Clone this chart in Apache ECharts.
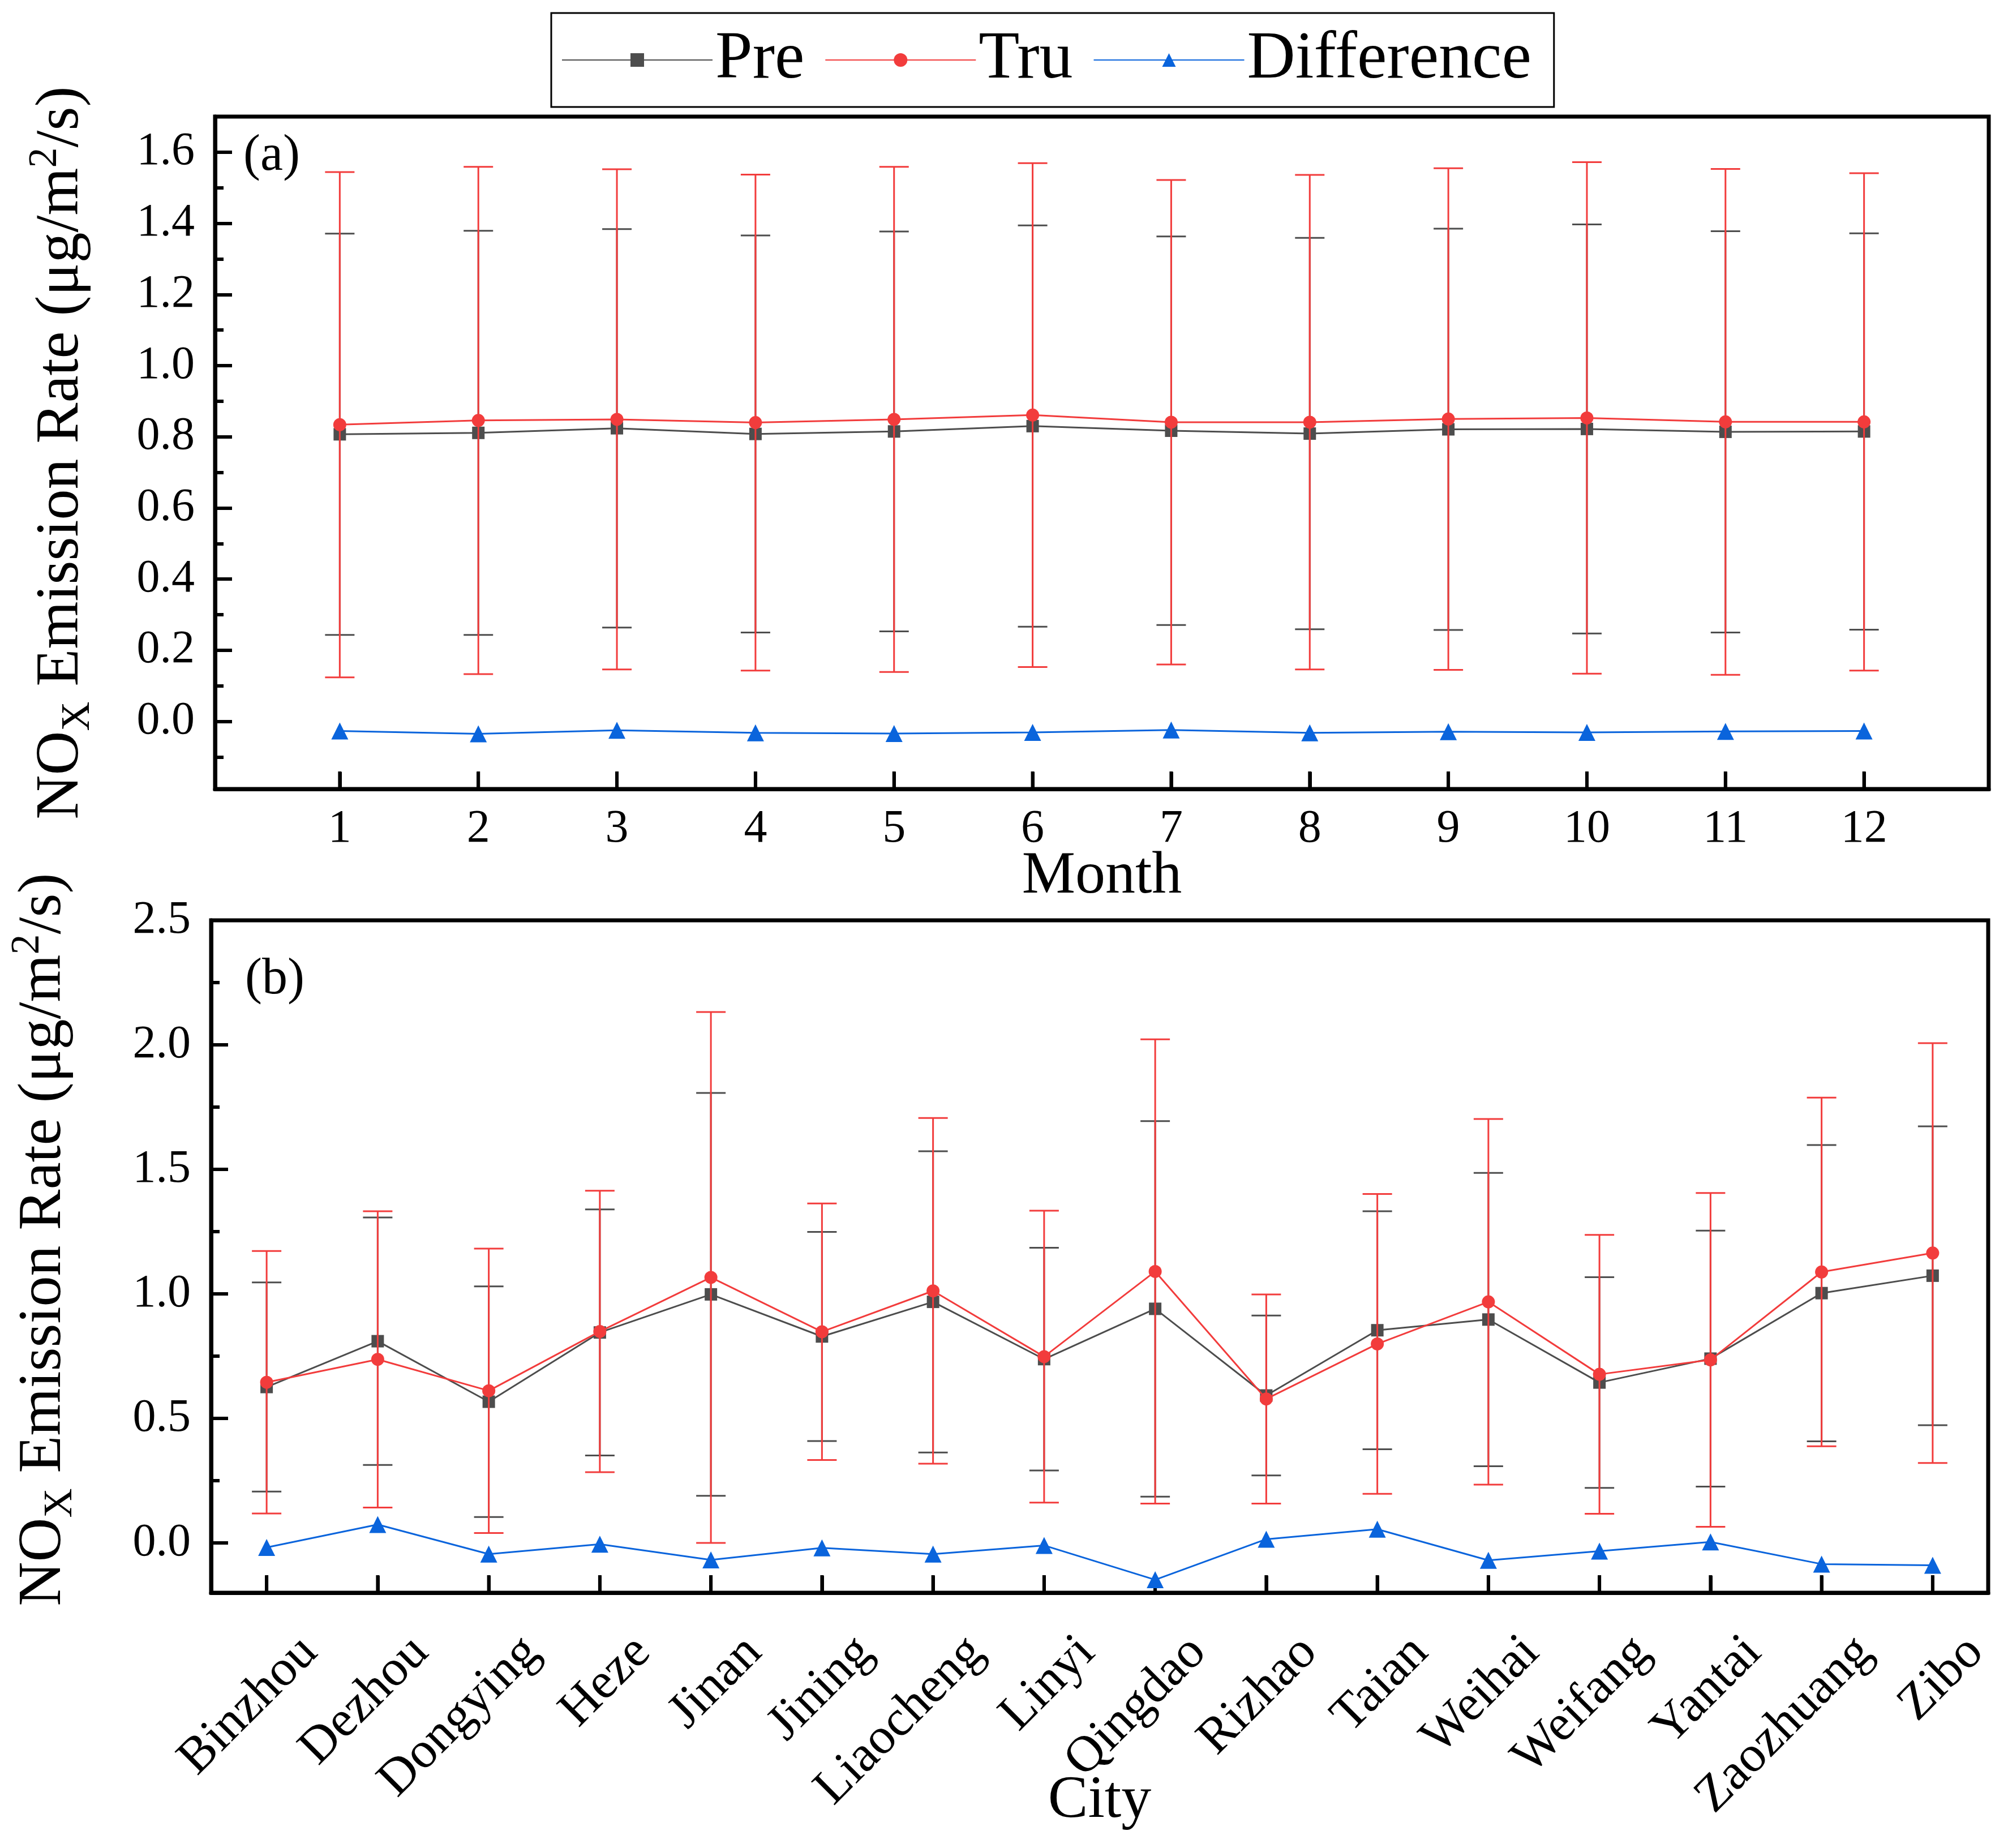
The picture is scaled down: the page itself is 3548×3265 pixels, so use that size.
<!DOCTYPE html>
<html><head><meta charset="utf-8">
<script src="https://cdn.jsdelivr.net/npm/echarts@6/dist/echarts.min.js"></script>
<style>html,body{margin:0;padding:0;background:#fff}#c{width:3548px;height:3265px}</style>
</head><body><div id="c"></div>
<script>
// ---------- data: panel (a) by month ----------
const months = [1,2,3,4,5,6,7,8,9,10,11,12];
const preMonth   = [0.807,0.811,0.824,0.808,0.815,0.830,0.817,0.809,0.821,0.822,0.814,0.815];
const preMonthSd = [0.564,0.568,0.560,0.558,0.562,0.564,0.546,0.550,0.564,0.575,0.564,0.557];
const truMonth   = [0.834,0.846,0.849,0.840,0.849,0.861,0.841,0.841,0.850,0.853,0.842,0.842];
const truMonthSd = [0.710,0.713,0.703,0.697,0.710,0.708,0.681,0.695,0.705,0.719,0.711,0.699];
const diffMonth  = [-0.027,-0.035,-0.025,-0.032,-0.034,-0.031,-0.024,-0.032,-0.029,-0.031,-0.028,-0.027];

// ---------- data: panel (b) by city ----------
const cities = ['Binzhou','Dezhou','Dongying','Heze','Jinan','Jining','Liaocheng','Linyi','Qingdao','Rizhao','Taian','Weihai','Weifang','Yantai','Zaozhuang','Zibo'];
const preCity   = [0.626,0.810,0.567,0.845,0.998,0.829,0.968,0.738,0.940,0.592,0.854,0.897,0.644,0.740,1.003,1.073];
const preCitySd = [0.420,0.497,0.463,0.494,0.809,0.420,0.605,0.447,0.754,0.321,0.478,0.589,0.423,0.514,0.595,0.600];
const truCity   = [0.645,0.737,0.611,0.849,1.066,0.848,1.012,0.748,1.090,0.578,0.799,0.968,0.677,0.735,1.088,1.164];
const truCitySd = [0.527,0.595,0.571,0.565,1.066,0.515,0.694,0.586,0.932,0.420,0.602,0.734,0.560,0.670,0.700,0.843];
const diffCity  = [-0.018,0.074,-0.045,-0.005,-0.068,-0.020,-0.045,-0.010,-0.148,0.015,0.055,-0.070,-0.033,0.004,-0.085,-0.090];

// ---------- axis ranges and tick values ----------
const yMinA = -0.19, yMaxA = 1.7;
const yMinB = -0.2,  yMaxB = 2.5;
const yTicksA = [0,0.2,0.4,0.6,0.8,1.0,1.2,1.4,1.6];
const yMinorA = [-0.1,0.1,0.3,0.5,0.7,0.9,1.1,1.3,1.5];
const yTicksB = [0,0.5,1.0,1.5,2.0,2.5];
const yMinorB = [0.25,0.75,1.25,1.75,2.25];

const FONT = "'Liberation Serif','Times New Roman',serif";
const C_PRE = '#4d4d4d', C_TRU = '#f23c3c', C_DIFF = '#0a64dc';

// error bar (vertical line + caps); optionally also the inward x tick at this category/month
function errRender(color, withTick){
  return function(params, api){
    const x = api.value(0), m = api.value(1), s = api.value(2);
    const p1 = api.coord([x, m + s]), p2 = api.coord([x, m - s]);
    const w = 26, st = {stroke: color, lineWidth: 3};
    const children = [
      {type:'line', shape:{x1:p1[0], y1:p1[1], x2:p2[0], y2:p2[1]}, style:st},
      {type:'line', shape:{x1:p1[0]-w, y1:p1[1], x2:p1[0]+w, y2:p1[1]}, style:st},
      {type:'line', shape:{x1:p2[0]-w, y1:p2[1], x2:p2[0]+w, y2:p2[1]}, style:st}
    ];
    if (withTick) {
      const cs = params.coordSys;
      const yb = cs.y + cs.height - 3;
      children.push({type:'rect', shape:{x:p1[0]-3, y:yb-28, width:6, height:28}, style:{fill:'#000'}});
    }
    return {type:'group', children:children};
  };
}

const axisNameRich = {
  n:   {fontSize:108, fontFamily:FONT, color:'#000', lineHeight:130},
  sub: {fontSize:72,  fontFamily:FONT, color:'#000', lineHeight:44, verticalAlign:'bottom'},
  sup: {fontSize:72,  fontFamily:FONT, color:'#000', lineHeight:60, verticalAlign:'top'}
};
const yName = '{n|NO}{sub|X}{n| Emission Rate (μg/m}{sup|2}{n|/s)}';

function mainY(grid, min, max, ticks, gap, pad){
  return {
    gridIndex:grid, type:'value', min:min, max:max,
    axisLine:{show:true, onZero:false, lineStyle:{color:'#000', width:7}}, splitLine:{show:false},
    axisTick:{show:true, inside:true, length:30, customValues:ticks, lineStyle:{color:'#000', width:6}},
    axisLabel:{customValues:ticks, formatter:v=>v.toFixed(1), fontSize:82, fontFamily:FONT, color:'#000', margin:36},
    name:yName, nameLocation:'middle', nameGap:gap, nameMoveOverlap:false,
    nameTextStyle:{fontFamily:FONT, fontSize:108, color:'#000', rich:axisNameRich, padding:pad}
  };
}
function minorY(grid, min, max, ticks){
  return {
    gridIndex:grid, type:'value', min:min, max:max, position:'left', offset:0,
    axisLine:{show:false, onZero:false}, splitLine:{show:false}, axisLabel:{show:false},
    axisTick:{show:true, inside:true, length:15, customValues:ticks, lineStyle:{color:'#000', width:6}}
  };
}

const chart = echarts.init(document.getElementById('c'), null, {renderer:'canvas'});
chart.setOption({
  animation:false,
  backgroundColor:'#fff',
  textStyle:{fontFamily:FONT},
  legend:{
    data:['Pre','Tru','Difference'],
    left:974, top:23, orient:'horizontal',
    itemWidth:266, itemHeight:30, itemGap:36,
    padding:[18,40,18,18],
    borderColor:'#000', borderWidth:3,
    textStyle:{fontSize:118, fontFamily:FONT, color:'#000', lineHeight:130}
  },
  grid:[
    {left:380, right:34, top:206, height:1188, show:true, borderColor:'#000', borderWidth:7,
     backgroundColor:'transparent', containLabel:false, outerBoundsMode:'none'},
    {left:373, right:35, top:1626, height:1188, show:true, borderColor:'#000', borderWidth:7,
     backgroundColor:'transparent', containLabel:false, outerBoundsMode:'none'}
  ],
  xAxis:[
    {gridIndex:0, type:'value', min:0.1, max:12.9, position:'bottom',
     axisLine:{show:true, onZero:false, lineStyle:{color:'#000', width:7}}, splitLine:{show:false},
     axisTick:{show:true, inside:true, length:30, customValues:months, lineStyle:{color:'#000', width:6}},
     axisLabel:{customValues:months, fontSize:82, fontFamily:FONT, color:'#000', margin:30},
     name:'Month', nameLocation:'middle', nameGap:102, nameMoveOverlap:false,
     nameTextStyle:{fontSize:106, fontFamily:FONT, color:'#000'}},
    {gridIndex:1, type:'category', data:cities, boundaryGap:true, position:'bottom',
     axisLine:{show:true, onZero:false, lineStyle:{color:'#000', width:7}}, splitLine:{show:false},
     axisTick:{show:true, inside:true, length:30, alignWithLabel:true, interval:0, lineStyle:{color:'#000', width:6}},
     axisLabel:{interval:0, rotate:45, fontSize:90, fontFamily:FONT, color:'#000', margin:16, lineHeight:215, verticalAlign:'top'},
     name:'City', nameLocation:'middle', nameGap:315, nameMoveOverlap:false,
     nameTextStyle:{fontSize:106, fontFamily:FONT, color:'#000'}}
  ],
  yAxis:[
    mainY(0, yMinA, yMaxA, yTicksA, 206, [0,0,0,0]),
    minorY(0, yMinA, yMaxA, yMinorA),
    mainY(1, yMinB, yMaxB, yTicksB, 230, [0,0,0,60]),
    minorY(1, yMinB, yMaxB, yMinorB)
  ],
  graphic:[
    {type:'text', x:430, y:276, style:{text:'(a)', fontSize:90, fontFamily:FONT, fill:'#000', verticalAlign:'middle'}},
    {type:'text', x:433, y:1731, style:{text:'(b)', fontSize:90, fontFamily:FONT, fill:'#000', verticalAlign:'middle'}}
  ],
  series:[
    {name:'PreErrA', type:'custom', xAxisIndex:0, yAxisIndex:0, z:1, clip:false, renderItem:errRender(C_PRE, true),
     encode:{x:0, y:1}, data:months.map((m,i)=>[m, preMonth[i], preMonthSd[i]])},
    {name:'Pre', type:'line', xAxisIndex:0, yAxisIndex:0, z:2, symbol:'rect', symbolSize:22,
     itemStyle:{color:C_PRE}, lineStyle:{color:C_PRE, width:3},
     data:months.map((m,i)=>[m, preMonth[i]])},
    {name:'TruErrA', type:'custom', xAxisIndex:0, yAxisIndex:0, z:3, renderItem:errRender(C_TRU, false),
     encode:{x:0, y:1}, data:months.map((m,i)=>[m, truMonth[i], truMonthSd[i]])},
    {name:'Tru', type:'line', xAxisIndex:0, yAxisIndex:0, z:4, symbol:'circle', symbolSize:23,
     itemStyle:{color:C_TRU}, lineStyle:{color:C_TRU, width:3},
     data:months.map((m,i)=>[m, truMonth[i]])},
    {name:'Difference', type:'line', xAxisIndex:0, yAxisIndex:0, z:5, symbol:'triangle', symbolSize:30,
     itemStyle:{color:C_DIFF}, lineStyle:{color:C_DIFF, width:3},
     data:months.map((m,i)=>[m, diffMonth[i]])},
    {name:'PreErrB', type:'custom', xAxisIndex:1, yAxisIndex:2, z:1, clip:false, renderItem:errRender(C_PRE, true),
     encode:{x:0, y:1}, data:cities.map((c,i)=>[i, preCity[i], preCitySd[i]])},
    {name:'Pre', type:'line', xAxisIndex:1, yAxisIndex:2, z:2, symbol:'rect', symbolSize:22,
     itemStyle:{color:C_PRE}, lineStyle:{color:C_PRE, width:3}, data:preCity},
    {name:'TruErrB', type:'custom', xAxisIndex:1, yAxisIndex:2, z:3, renderItem:errRender(C_TRU, false),
     encode:{x:0, y:1}, data:cities.map((c,i)=>[i, truCity[i], truCitySd[i]])},
    {name:'Tru', type:'line', xAxisIndex:1, yAxisIndex:2, z:4, symbol:'circle', symbolSize:23,
     itemStyle:{color:C_TRU}, lineStyle:{color:C_TRU, width:3}, data:truCity},
    {name:'Difference', type:'line', xAxisIndex:1, yAxisIndex:2, z:5, symbol:'triangle', symbolSize:30,
     itemStyle:{color:C_DIFF}, lineStyle:{color:C_DIFF, width:3}, data:diffCity}
  ]
});
</script></body></html>
